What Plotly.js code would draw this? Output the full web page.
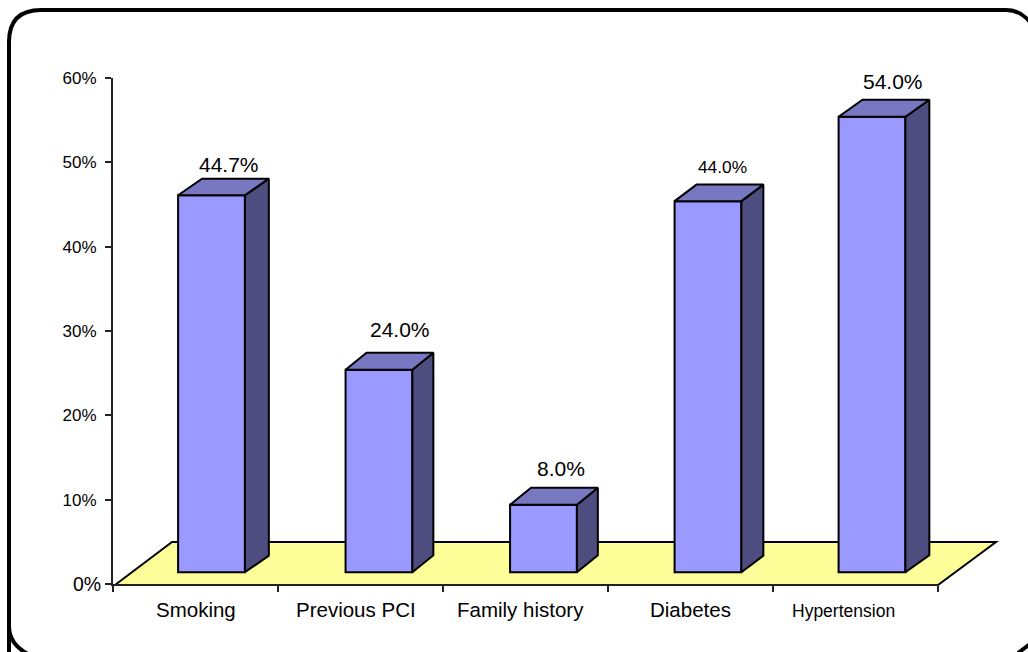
<!DOCTYPE html>
<html>
<head>
<meta charset="utf-8">
<script src="https://cdn.plot.ly/plotly-3.0.1.min.js"></script>
<style>html,body{margin:0;padding:0;background:#fff;overflow:hidden}</style>
</head>
<body>
<div id="chart" style="width:1028px;height:652px"></div>
<script>
const categories = ["Smoking", "Previous PCI", "Family history", "Diabetes", "Hypertension"];
const values = [44.7, 24.0, 8.0, 44.0, 54.0];
const valueLabels = ["44.7%", "24.0%", "8.0%", "44.0%", "54.0%"];
const yTicks = [0, 10, 20, 30, 40, 50, 60];
const yTickLabels = ["", "10%", "20%", "30%", "40%", "50%", "60%"];

// Layout of the pseudo-3D drawing (axis units unless noted)
const barCenters = [0.597, 1.612, 2.609, 3.606, 4.6];
const barWidth = 0.405;
const barBase = 1.4;
const depthXs = [0.145, 0.127, 0.127, 0.133, 0.145];
const depthYs = [1.96, 2.02, 2.02, 1.96, 2.02];
const labelFont = [20.5, 20.5, 20.5, 20.5, 17.5];
const labelCenters = [195.5, 355.5, 520.5, 690.5, 843.5];
const labelRows = [609, 609, 609, 609, 611];
const valueFont = [21, 21, 21, 17.3, 21];
const valueDx = [17, 21.5, 18, 14.5, 21];
const valueDy = [14, 23.5, 19.5, 17.5, 18];

const W = 825, H = 506, L = 113, B = 584;
const px = x => (x - L) / W;
const py = y => (B - y) / H;
const FONT = '"Liberation Sans", Arial, sans-serif';

function poly(xs, ys, color) {
  return {type: 'scatter', mode: 'lines', x: xs, y: ys, fill: 'toself', fillcolor: color,
    line: {color: '#000', width: 2, shape: 'linear'}, hoverinfo: 'skip', showlegend: false};
}

const traces = [{
  type: 'bar', x: barCenters, y: values, base: barBase, width: barWidth,
  text: categories, textposition: 'none', showlegend: false,
  marker: {color: '#9999FF', line: {color: '#000', width: 2}}
}];
values.forEach((v, i) => {
  const l = barCenters[i] - barWidth / 2, r = barCenters[i] + barWidth / 2;
  const b = barBase, t = v + barBase, dx = depthXs[i], dy = depthYs[i];
  traces.push(poly([r, r + dx, r + dx, r, r], [b, b + dy, t + dy, t, b], '#4D4D80'));
  traces.push(poly([l, l + dx, r + dx, r, l], [t, t + dy, t + dy, t, t], '#7777C2'));
});

const annotations = [];
categories.forEach((c, i) => annotations.push({
  xref: 'paper', yref: 'paper', x: px(labelCenters[i]), y: py(labelRows[i]), text: c, showarrow: false,
  xanchor: 'center', yanchor: 'middle', font: {family: FONT, size: labelFont[i], color: '#000'}
}));
valueLabels.forEach((t, i) => annotations.push({
  xref: 'x', yref: 'y', x: barCenters[i], y: values[i] + barBase + depthYs[i], xshift: valueDx[i], yshift: valueDy[i],
  text: t, showarrow: false, xanchor: 'center', yanchor: 'middle',
  font: {family: FONT, size: valueFont[i], color: '#000'}
}));
annotations.push({
  xref: 'paper', yref: 'y', x: px(103), y: 0, text: '0%', showarrow: false,
  xanchor: 'right', yanchor: 'middle', font: {family: FONT, size: 19.5, color: '#000'}
});

const r = (x, y) => px(x).toFixed(5) + ',' + py(y).toFixed(5);
const framePath = 'M' + r(9, 665) + ' L' + r(9, 626) + ' Q' + r(9, 644) + ' ' + r(28, 654) +
  ' M' + r(9, 626) + ' L' + r(9, 42) + ' Q' + r(9, 10) + ' ' + r(41, 10) +
  ' L' + r(1006, 10) + ' Q' + r(1020, 10) + ' ' + r(1030, 22) +
  ' M' + r(1018, 653) + ' L' + r(1030, 644);
const floorPath = 'M' + r(115, 585) + ' L' + r(172, 542) + ' L' + r(996, 542) + ' L' + r(938, 585) + ' Z';

const layout = {
  width: 1028, height: 652,
  margin: {l: 113, r: 90, t: 78, b: 68, pad: 0},
  paper_bgcolor: '#fff', plot_bgcolor: 'rgba(0,0,0,0)',
  showlegend: false,
  xaxis: {
    range: [0, 5], tickmode: 'array', tickvals: [0, 1, 2, 3, 4, 5], ticktext: ['', '', '', '', '', ''],
    ticks: 'outside', ticklen: 6, tickwidth: 2, tickcolor: '#222', showline: true, linecolor: '#222', linewidth: 2,
    showgrid: false, zeroline: false, fixedrange: true
  },
  yaxis: {
    range: [0, 60], tickmode: 'array', tickvals: yTicks, ticktext: yTickLabels,
    ticks: 'outside', ticklen: 6, tickwidth: 2, tickcolor: '#222', showline: true, linecolor: '#222', linewidth: 2,
    showgrid: false, zeroline: false, fixedrange: true, ticklabelstandoff: 5,
    tickfont: {family: FONT, size: 17, color: '#000'}
  },
  shapes: [
    {type: 'path', xref: 'paper', yref: 'paper', layer: 'below', path: floorPath,
      fillcolor: '#FFFF99', line: {color: '#000', width: 2}},
    {type: 'path', xref: 'paper', yref: 'paper', layer: 'above', path: framePath,
      fillcolor: 'rgba(0,0,0,0)', line: {color: '#000', width: 4}}
  ],
  annotations: annotations
};
Plotly.newPlot('chart', traces, layout, {displayModeBar: false, responsive: false});
</script>
</body>
</html>
